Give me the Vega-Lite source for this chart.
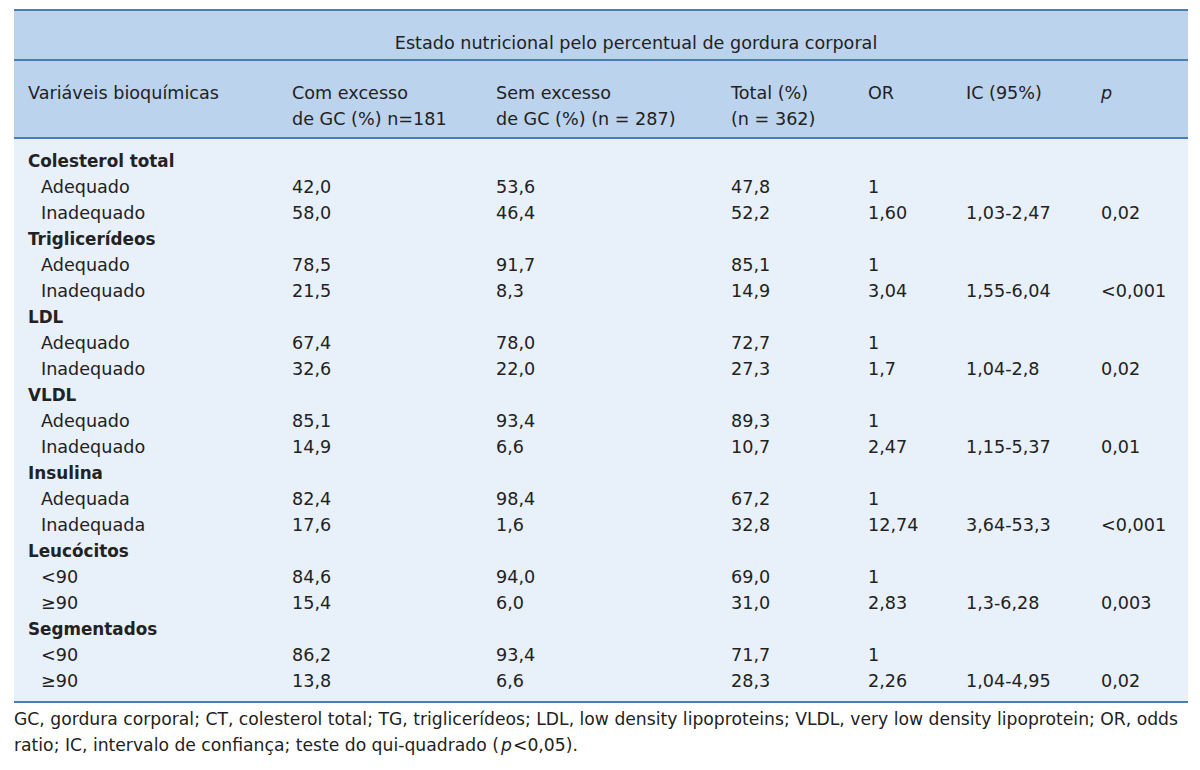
{
  "$schema": "https://vega.github.io/schema/vega-lite/v6.json",
  "width": 1200,
  "height": 770,
  "padding": 0,
  "autosize": {"type": "none"},
  "background": "white",
  "config": {"view": {"stroke": null}, "text": {"font": "DejaVu Sans", "fontSize": 17.6, "color": "#222222", "dy": 1.5}},
  "datasets": {
    "cols": [
      {"key": "var", "c": 1, "h1": "Variáveis bioquímicas", "h2": ""},
      {"key": "com", "c": 2, "h1": "Com excesso", "h2": "de GC (%) n=181"},
      {"key": "sem", "c": 3, "h1": "Sem excesso", "h2": "de GC (%) (n = 287)"},
      {"key": "tot", "c": 4, "h1": "Total (%)", "h2": "(n = 362)"},
      {"key": "or", "c": 5, "h1": "OR", "h2": ""},
      {"key": "ic", "c": 6, "h1": "IC (95%)", "h2": ""},
      {"key": "p", "c": 7, "h1": "p", "h2": ""}
    ],
    "body": [
      {"r": 1, "kind": "g", "var": "Colesterol total"},
      {"r": 2, "kind": "i", "var": "Adequado", "com": "42,0", "sem": "53,6", "tot": "47,8", "or": "1", "ic": "", "p": ""},
      {"r": 3, "kind": "i", "var": "Inadequado", "com": "58,0", "sem": "46,4", "tot": "52,2", "or": "1,60", "ic": "1,03-2,47", "p": "0,02"},
      {"r": 4, "kind": "g", "var": "Triglicerídeos"},
      {"r": 5, "kind": "i", "var": "Adequado", "com": "78,5", "sem": "91,7", "tot": "85,1", "or": "1", "ic": "", "p": ""},
      {"r": 6, "kind": "i", "var": "Inadequado", "com": "21,5", "sem": "8,3", "tot": "14,9", "or": "3,04", "ic": "1,55-6,04", "p": "<0,001"},
      {"r": 7, "kind": "g", "var": "LDL"},
      {"r": 8, "kind": "i", "var": "Adequado", "com": "67,4", "sem": "78,0", "tot": "72,7", "or": "1", "ic": "", "p": ""},
      {"r": 9, "kind": "i", "var": "Inadequado", "com": "32,6", "sem": "22,0", "tot": "27,3", "or": "1,7", "ic": "1,04-2,8", "p": "0,02"},
      {"r": 10, "kind": "g", "var": "VLDL"},
      {"r": 11, "kind": "i", "var": "Adequado", "com": "85,1", "sem": "93,4", "tot": "89,3", "or": "1", "ic": "", "p": ""},
      {"r": 12, "kind": "i", "var": "Inadequado", "com": "14,9", "sem": "6,6", "tot": "10,7", "or": "2,47", "ic": "1,15-5,37", "p": "0,01"},
      {"r": 13, "kind": "g", "var": "Insulina"},
      {"r": 14, "kind": "i", "var": "Adequada", "com": "82,4", "sem": "98,4", "tot": "67,2", "or": "1", "ic": "", "p": ""},
      {"r": 15, "kind": "i", "var": "Inadequada", "com": "17,6", "sem": "1,6", "tot": "32,8", "or": "12,74", "ic": "3,64-53,3", "p": "<0,001"},
      {"r": 16, "kind": "g", "var": "Leucócitos"},
      {"r": 17, "kind": "i", "var": "<90", "com": "84,6", "sem": "94,0", "tot": "69,0", "or": "1", "ic": "", "p": ""},
      {"r": 18, "kind": "i", "var": "≥90", "com": "15,4", "sem": "6,0", "tot": "31,0", "or": "2,83", "ic": "1,3-6,28", "p": "0,003"},
      {"r": 19, "kind": "g", "var": "Segmentados"},
      {"r": 20, "kind": "i", "var": "<90", "com": "86,2", "sem": "93,4", "tot": "71,7", "or": "1", "ic": "", "p": ""},
      {"r": 21, "kind": "i", "var": "≥90", "com": "13,8", "sem": "6,6", "tot": "28,3", "or": "2,26", "ic": "1,04-4,95", "p": "0,02"}
    ],
    "notes": [
      {"r": 23, "part": "a", "text": "GC, gordura corporal; CT, colesterol total; TG, triglicerídeos; LDL, low density lipoproteins; VLDL, very low density lipoprotein; OR, odds"},
      {"r": 24, "part": "a", "text": "ratio; IC, intervalo de confiança; teste do qui-quadrado ("},
      {"r": 24, "part": "p", "text": "p"},
      {"r": 24, "part": "b", "text": "<0,05)."}
    ]
  },
  "layer": [
    {
      "data": {"values": [{}]},
      "mark": {"type": "rect", "color": "#bcd3ee"},
      "encoding": {
        "x": {"datum": 0, "type": "quantitative", "scale": {"domain": [0,1,2,3,4,5,6,7,8], "range": [14,28,292,496,731,868,966,1101,1188], "zero": false, "nice": false}, "axis": null},
        "x2": {"datum": 8},
        "y": {"datum": -4, "type": "quantitative", "scale": {"domain": [-4,-3,-2.5,-2,-1,0,1,21,22,23,24], "range": [10,42,60,92,118,138,160,680,702,718,744], "zero": false, "nice": false}, "axis": null},
        "y2": {"datum": 0}
      }
    },
    {
      "data": {"values": [{}]},
      "mark": {"type": "rect", "color": "#e8f0fa"},
      "encoding": {
        "x": {"datum": 0, "type": "quantitative", "scale": {"domain": [0,1,2,3,4,5,6,7,8], "range": [14,28,292,496,731,868,966,1101,1188], "zero": false, "nice": false}, "axis": null},
        "x2": {"datum": 8},
        "y": {"datum": 0, "type": "quantitative", "scale": {"domain": [-4,-3,-2.5,-2,-1,0,1,21,22,23,24], "range": [10,42,60,92,118,138,160,680,702,718,744], "zero": false, "nice": false}, "axis": null},
        "y2": {"datum": 22}
      }
    },
    {
      "data": {"values": [{"yy": -4}, {"yy": -2.5}, {"yy": 0}, {"yy": 22}]},
      "mark": {"type": "rule", "color": "#4a7cb5", "strokeWidth": 2},
      "encoding": {
        "x": {"datum": 0, "type": "quantitative", "scale": {"domain": [0,1,2,3,4,5,6,7,8], "range": [14,28,292,496,731,868,966,1101,1188], "zero": false, "nice": false}, "axis": null},
        "x2": {"datum": 8},
        "y": {"field": "yy", "type": "quantitative", "scale": {"domain": [-4,-3,-2.5,-2,-1,0,1,21,22,23,24], "range": [10,42,60,92,118,138,160,680,702,718,744], "zero": false, "nice": false}, "axis": null}
      }
    },
    {
      "data": {"values": [{"t": "Estado nutricional pelo percentual de gordura corporal"}]},
      "mark": {"type": "text", "align": "center", "baseline": "middle"},
      "encoding": {
        "x": {"datum": 3.596, "type": "quantitative", "scale": {"domain": [0,1,2,3,4,5,6,7,8], "range": [14,28,292,496,731,868,966,1101,1188], "zero": false, "nice": false}, "axis": null},
        "y": {"datum": -3, "type": "quantitative", "scale": {"domain": [-4,-3,-2.5,-2,-1,0,1,21,22,23,24], "range": [10,42,60,92,118,138,160,680,702,718,744], "zero": false, "nice": false}, "axis": null},
        "text": {"field": "t"}
      }
    },
    {
      "data": {"name": "cols"},
      "transform": [{"filter": "datum.key != 'p'"}],
      "mark": {"type": "text", "align": "left", "baseline": "middle"},
      "encoding": {
        "x": {"field": "c", "type": "quantitative", "scale": {"domain": [0,1,2,3,4,5,6,7,8], "range": [14,28,292,496,731,868,966,1101,1188], "zero": false, "nice": false}, "axis": null},
        "y": {"datum": -2, "type": "quantitative", "scale": {"domain": [-4,-3,-2.5,-2,-1,0,1,21,22,23,24], "range": [10,42,60,92,118,138,160,680,702,718,744], "zero": false, "nice": false}, "axis": null},
        "text": {"field": "h1"}
      }
    },
    {
      "data": {"name": "cols"},
      "transform": [{"filter": "datum.key == 'p'"}],
      "mark": {"type": "text", "align": "left", "baseline": "middle", "fontStyle": "italic"},
      "encoding": {
        "x": {"field": "c", "type": "quantitative", "scale": {"domain": [0,1,2,3,4,5,6,7,8], "range": [14,28,292,496,731,868,966,1101,1188], "zero": false, "nice": false}, "axis": null},
        "y": {"datum": -2, "type": "quantitative", "scale": {"domain": [-4,-3,-2.5,-2,-1,0,1,21,22,23,24], "range": [10,42,60,92,118,138,160,680,702,718,744], "zero": false, "nice": false}, "axis": null},
        "text": {"field": "h1"}
      }
    },
    {
      "data": {"name": "cols"},
      "mark": {"type": "text", "align": "left", "baseline": "middle"},
      "encoding": {
        "x": {"field": "c", "type": "quantitative", "scale": {"domain": [0,1,2,3,4,5,6,7,8], "range": [14,28,292,496,731,868,966,1101,1188], "zero": false, "nice": false}, "axis": null},
        "y": {"datum": -1, "type": "quantitative", "scale": {"domain": [-4,-3,-2.5,-2,-1,0,1,21,22,23,24], "range": [10,42,60,92,118,138,160,680,702,718,744], "zero": false, "nice": false}, "axis": null},
        "text": {"field": "h2"}
      }
    },
    {
      "data": {"name": "body"},
      "transform": [{"filter": "datum.kind == 'g'"}],
      "mark": {"type": "text", "align": "left", "baseline": "middle", "fontWeight": "bold", "fontSize": 16.8},
      "encoding": {
        "x": {"datum": 1, "type": "quantitative", "scale": {"domain": [0,1,2,3,4,5,6,7,8], "range": [14,28,292,496,731,868,966,1101,1188], "zero": false, "nice": false}, "axis": null},
        "y": {"field": "r", "type": "quantitative", "scale": {"domain": [-4,-3,-2.5,-2,-1,0,1,21,22,23,24], "range": [10,42,60,92,118,138,160,680,702,718,744], "zero": false, "nice": false}, "axis": null},
        "text": {"field": "var"}
      }
    },
    {
      "data": {"name": "body"},
      "transform": [{"filter": "datum.kind == 'i'"}],
      "mark": {"type": "text", "align": "left", "baseline": "middle", "dx": 13},
      "encoding": {
        "x": {"datum": 1, "type": "quantitative", "scale": {"domain": [0,1,2,3,4,5,6,7,8], "range": [14,28,292,496,731,868,966,1101,1188], "zero": false, "nice": false}, "axis": null},
        "y": {"field": "r", "type": "quantitative", "scale": {"domain": [-4,-3,-2.5,-2,-1,0,1,21,22,23,24], "range": [10,42,60,92,118,138,160,680,702,718,744], "zero": false, "nice": false}, "axis": null},
        "text": {"field": "var"}
      }
    },
    {
      "data": {"name": "body"},
      "transform": [
        {"filter": "datum.kind == 'i'"},
        {"fold": ["com", "sem", "tot", "or", "ic", "p"], "as": ["key", "val"]},
        {"lookup": "key", "from": {"data": {"name": "cols"}, "key": "key", "fields": ["c"]}}
      ],
      "mark": {"type": "text", "align": "left", "baseline": "middle"},
      "encoding": {
        "x": {"field": "c", "type": "quantitative", "scale": {"domain": [0,1,2,3,4,5,6,7,8], "range": [14,28,292,496,731,868,966,1101,1188], "zero": false, "nice": false}, "axis": null},
        "y": {"field": "r", "type": "quantitative", "scale": {"domain": [-4,-3,-2.5,-2,-1,0,1,21,22,23,24], "range": [10,42,60,92,118,138,160,680,702,718,744], "zero": false, "nice": false}, "axis": null},
        "text": {"field": "val"}
      }
    },
    {
      "data": {"name": "notes"},
      "transform": [{"filter": "datum.part == 'a'"}],
      "mark": {"type": "text", "align": "left", "baseline": "middle", "fontSize": 17.2},
      "encoding": {
        "x": {"datum": 0, "type": "quantitative", "scale": {"domain": [0,1,2,3,4,5,6,7,8], "range": [14,28,292,496,731,868,966,1101,1188], "zero": false, "nice": false}, "axis": null},
        "y": {"field": "r", "type": "quantitative", "scale": {"domain": [-4,-3,-2.5,-2,-1,0,1,21,22,23,24], "range": [10,42,60,92,118,138,160,680,702,718,744], "zero": false, "nice": false}, "axis": null},
        "text": {"field": "text"}
      }
    },
    {
      "data": {"name": "notes"},
      "transform": [{"filter": "datum.part == 'p'"}],
      "mark": {"type": "text", "align": "left", "baseline": "middle", "fontSize": 17.2, "fontStyle": "italic", "dx": 487},
      "encoding": {
        "x": {"datum": 0, "type": "quantitative", "scale": {"domain": [0,1,2,3,4,5,6,7,8], "range": [14,28,292,496,731,868,966,1101,1188], "zero": false, "nice": false}, "axis": null},
        "y": {"field": "r", "type": "quantitative", "scale": {"domain": [-4,-3,-2.5,-2,-1,0,1,21,22,23,24], "range": [10,42,60,92,118,138,160,680,702,718,744], "zero": false, "nice": false}, "axis": null},
        "text": {"field": "text"}
      }
    },
    {
      "data": {"name": "notes"},
      "transform": [{"filter": "datum.part == 'b'"}],
      "mark": {"type": "text", "align": "left", "baseline": "middle", "fontSize": 17.2, "dx": 499},
      "encoding": {
        "x": {"datum": 0, "type": "quantitative", "scale": {"domain": [0,1,2,3,4,5,6,7,8], "range": [14,28,292,496,731,868,966,1101,1188], "zero": false, "nice": false}, "axis": null},
        "y": {"field": "r", "type": "quantitative", "scale": {"domain": [-4,-3,-2.5,-2,-1,0,1,21,22,23,24], "range": [10,42,60,92,118,138,160,680,702,718,744], "zero": false, "nice": false}, "axis": null},
        "text": {"field": "text"}
      }
    }
  ]
}
